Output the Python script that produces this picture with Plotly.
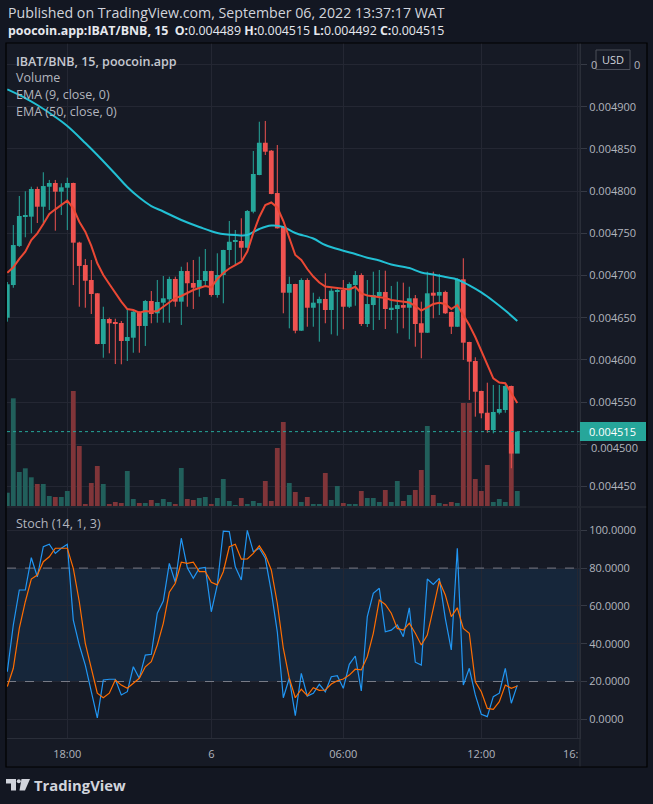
import plotly.graph_objects as go

W, H = 653, 804

# ---------------- data ----------------
bars = list(range(86))  # 15-minute bars, index 0 .. 85

open_ = [0.0046500, 0.0046887, 0.0047350, 0.0047701, 0.0047697, 0.0048025, 0.0047815, 0.0048052, 0.0048096, 0.0047993,
         0.0048040, 0.0048096, 0.0047390, 0.0047124, 0.0046947, 0.0046789, 0.0046188, 0.0046485, 0.0046449, 0.0046437,
         0.0046224, 0.0046263, 0.0046571, 0.0046402, 0.0046698, 0.0046552, 0.0046678, 0.0046718, 0.0046959, 0.0046690,
         0.0047053, 0.0046911, 0.0046855, 0.0046935, 0.0047053, 0.0046769, 0.0047006, 0.0047302, 0.0047405, 0.0047409,
         0.0047329, 0.0047756, 0.0048191, 0.0048573, 0.0048479, 0.0047977, 0.0047578, 0.0046796, 0.0046899, 0.0046346,
         0.0046947, 0.0046618, 0.0046671, 0.0046722, 0.0046591, 0.0046808, 0.0046828, 0.0046630, 0.0046887, 0.0047006,
         0.0046425, 0.0046650, 0.0046757, 0.0046805, 0.0046603, 0.0046603, 0.0046650, 0.0046618, 0.0046730, 0.0046434,
         0.0046322, 0.0046796, 0.0046761, 0.0046805, 0.0046568, 0.0046393, 0.0046955, 0.0046212, 0.0045987, 0.0045632,
         0.0045374, 0.0045169, 0.0045374, 0.0045406, 0.0045691, 0.0044890]
high = [0.0046923, 0.0047598, 0.0047942, 0.0047998, 0.0048052, 0.0048052, 0.0048223, 0.0048132, 0.0048132, 0.0048092,
        0.0048159, 0.0048100, 0.0047400, 0.0047196, 0.0047184, 0.0046792, 0.0046630, 0.0046500, 0.0046488, 0.0046461,
        0.0046611, 0.0046591, 0.0046575, 0.0046710, 0.0046816, 0.0046947, 0.0046994, 0.0046986, 0.0046986, 0.0047104,
        0.0047156, 0.0047184, 0.0047223, 0.0047314, 0.0047056, 0.0047263, 0.0047305, 0.0047646, 0.0047539, 0.0047678,
        0.0047776, 0.0048475, 0.0048822, 0.0048831, 0.0048487, 0.0048546, 0.0047580, 0.0046986, 0.0046902, 0.0046967,
        0.0046967, 0.0046796, 0.0046749, 0.0047026, 0.0046848, 0.0046840, 0.0046947, 0.0046919, 0.0047053, 0.0047026,
        0.0046947, 0.0047045, 0.0047065, 0.0047057, 0.0046876, 0.0046927, 0.0046915, 0.0046867, 0.0046769, 0.0046690,
        0.0047045, 0.0047045, 0.0047018, 0.0046820, 0.0046572, 0.0046967, 0.0047204, 0.0046215, 0.0046031, 0.0045635,
        0.0045730, 0.0045703, 0.0045703, 0.0045714, 0.0045695, 0.0045150]
low = [0.0046453, 0.0046855, 0.0047338, 0.0047453, 0.0047500, 0.0047622, 0.0047619, 0.0047776, 0.0047531, 0.0047717,
       0.0047539, 0.0046887, 0.0046630, 0.0046618, 0.0046544, 0.0046185, 0.0046026, 0.0046078, 0.0045951, 0.0045948,
       0.0045987, 0.0046085, 0.0046085, 0.0046165, 0.0046434, 0.0046441, 0.0046441, 0.0046441, 0.0046630, 0.0046414,
       0.0046630, 0.0046603, 0.0046749, 0.0046867, 0.0046749, 0.0046737, 0.0046671, 0.0047124, 0.0047124, 0.0047184,
       0.0047322, 0.0047737, 0.0048188, 0.0048428, 0.0047963, 0.0047556, 0.0046552, 0.0046374, 0.0046315, 0.0046343,
       0.0046393, 0.0046393, 0.0046216, 0.0046434, 0.0046303, 0.0046287, 0.0046363, 0.0046615, 0.0046642, 0.0046402,
       0.0046390, 0.0046354, 0.0046473, 0.0046366, 0.0046473, 0.0046315, 0.0046374, 0.0046244, 0.0046156, 0.0046019,
       0.0046319, 0.0046493, 0.0046532, 0.0046544, 0.0046307, 0.0046390, 0.0045999, 0.0045525, 0.0045327, 0.0045308,
       0.0045137, 0.0045130, 0.0045355, 0.0045374, 0.0044716, 0.0044920]
close = [0.0046896, 0.0047361, 0.0047705, 0.0047705, 0.0048025, 0.0047815, 0.0048060, 0.0048096, 0.0047993, 0.0048045,
         0.0048096, 0.0047389, 0.0047113, 0.0046938, 0.0046781, 0.0046188, 0.0046485, 0.0046434, 0.0046425, 0.0046224,
         0.0046271, 0.0046571, 0.0046402, 0.0046698, 0.0046544, 0.0046686, 0.0046730, 0.0046959, 0.0046690, 0.0047053,
         0.0046908, 0.0046855, 0.0046947, 0.0047053, 0.0046769, 0.0047006, 0.0047302, 0.0047400, 0.0047409, 0.0047329,
         0.0047764, 0.0048203, 0.0048573, 0.0048467, 0.0047966, 0.0047559, 0.0046796, 0.0046899, 0.0046346, 0.0046947,
         0.0046618, 0.0046678, 0.0046722, 0.0046591, 0.0046820, 0.0046828, 0.0046630, 0.0046899, 0.0047006, 0.0046425,
         0.0046662, 0.0046769, 0.0046805, 0.0046603, 0.0046618, 0.0046650, 0.0046618, 0.0046730, 0.0046425, 0.0046322,
         0.0046789, 0.0046761, 0.0046805, 0.0046552, 0.0046393, 0.0046955, 0.0046204, 0.0045979, 0.0045623, 0.0045367,
         0.0045169, 0.0045383, 0.0045418, 0.0045691, 0.0044890, 0.0045150]
volume = [13.3, 107.7, 34, 37.7, 28.7, 22, 22, 10, 9, 9,
          15, 115, 60, 2, 23, 40, 22, 2, 4, 3,
          35, 7, 3, 3, 6, 3, 7, 4, 2, 38,
          7, 6, 8, 9, 2, 8, 27, 5, 1, 8,
          2, 5, 3, 25, 5, 58, 84, 23, 14, 4,
          9, 2, 2, 33, 6, 20, 3, 2, 2, 15,
          8, 8, 4, 16, 4, 25, 5, 11, 16, 36,
          80, 11, 3, 2, 4, 3, 103, 103, 27, 15,
          41, 4, 7, 4, 61, 15]
ema9 = [0.0047033, 0.0047097, 0.0047196, 0.0047282, 0.0047421, 0.0047500, 0.0047610, 0.0047729, 0.0047784, 0.0047835,
        0.0047886, 0.0047796, 0.0047637, 0.0047519, 0.0047350, 0.0047145, 0.0047006, 0.0046899, 0.0046789, 0.0046690,
        0.0046603, 0.0046591, 0.0046559, 0.0046579, 0.0046571, 0.0046579, 0.0046630, 0.0046678, 0.0046733, 0.0046757,
        0.0046793, 0.0046828, 0.0046852, 0.0046876, 0.0046860, 0.0046959, 0.0047030, 0.0047083, 0.0047124, 0.0047164,
        0.0047284, 0.0047504, 0.0047693, 0.0047835, 0.0047865, 0.0047806, 0.0047646, 0.0047444, 0.0047243, 0.0047184,
        0.0047077, 0.0046988, 0.0046917, 0.0046870, 0.0046860, 0.0046855, 0.0046840, 0.0046834, 0.0046867, 0.0046787,
        0.0046763, 0.0046751, 0.0046745, 0.0046733, 0.0046710, 0.0046701, 0.0046690, 0.0046680, 0.0046639, 0.0046585,
        0.0046621, 0.0046662, 0.0046678, 0.0046662, 0.0046603, 0.0046650, 0.0046532, 0.0046414, 0.0046271, 0.0046105,
        0.0045928, 0.0045782, 0.0045732, 0.0045723, 0.0045608, 0.0045489]
ema50_idx = [0, 3, 5, 8, 10, 13, 15, 18, 20, 22, 24, 26, 29, 32, 35, 38, 40, 42, 44, 46,
             48, 51, 53, 56, 58, 60, 62, 64, 67, 69, 71, 73, 75, 77, 79, 81, 83, 85]
ema50 = [0.0049206, 0.0049103, 0.0049020, 0.0048878, 0.0048771, 0.0048570, 0.0048428, 0.0048203, 0.0048049, 0.0047924,
         0.0047823, 0.0047758, 0.0047658, 0.0047575, 0.0047504, 0.0047480, 0.0047480, 0.0047551, 0.0047592, 0.0047575,
         0.0047504, 0.0047438, 0.0047361, 0.0047294, 0.0047255, 0.0047211, 0.0047178, 0.0047130, 0.0047089, 0.0047036,
         0.0047012, 0.0046982, 0.0046953, 0.0046882, 0.0046799, 0.0046698, 0.0046585, 0.0046461]
stoch_k = [25.2, 49.9, 68.4, 68.4, 85.5, 75.4, 91.3, 92.6, 87.8, 90.5,
           92.6, 52.5, 39.3, 28.7, 14.6, 0.8, 20.8, 21.2, 21.2, 12.9,
           14.6, 27.8, 21.7, 34.0, 34.4, 56.1, 62.6, 82.5, 72.5, 95.8,
           80.2, 74.6, 79.9, 80.4, 56.9, 71.1, 99.6, 99.3, 80.7, 73.7,
           100.0, 88.7, 90.5, 85.2, 67.5, 46.3, 11.4, 21.7, 1.9, 24.3,
           12.3, 13.8, 18.5, 14.6, 22.5, 23.1, 16.4, 29.1, 33.5, 15.0,
           54.3, 66.7, 69.3, 46.3, 47.2, 49.9, 43.7, 59.0, 30.2, 28.7,
           74.2, 71.4, 74.6, 53.4, 36.7, 90.5, 18.1, 27.0, 12.9, 2.6,
           1.4, 12.0, 13.8, 27.0, 8.5, 18.1]
stoch_d = [17.3, 27.0, 48.1, 62.2, 74.2, 76.3, 83.4, 86.0, 90.5, 90.5,
           90.5, 79.9, 62.2, 40.2, 27.0, 13.8, 11.4, 13.8, 20.8, 18.1,
           16.4, 19.0, 21.7, 27.8, 30.5, 39.3, 50.8, 67.2, 72.0, 83.1,
           82.5, 83.1, 78.1, 78.1, 72.5, 71.1, 78.1, 91.3, 92.6, 84.7,
           84.8, 87.8, 91.8, 86.9, 79.0, 61.4, 37.6, 21.7, 11.4, 15.9,
           12.5, 16.7, 15.3, 15.5, 18.7, 20.4, 21.3, 23.4, 26.5, 26.1,
           33.1, 45.5, 63.1, 60.8, 56.1, 48.1, 47.2, 50.8, 45.5, 39.3,
           44.6, 58.7, 73.2, 65.8, 54.3, 59.0, 48.1, 45.5, 19.9, 14.6,
           5.8, 5.3, 9.3, 18.1, 16.4, 17.6]
stoch_bands = [20, 80]

price_ticks = [0.00445, 0.00450, 0.00455, 0.00460, 0.00465, 0.00470, 0.00475, 0.00480, 0.00485, 0.00490, 0.00495]
# 0.004500 sits under the last-price label and 0.004950 under the USD box: drawn separately below
price_tick_text = ["0.004450", "", "0.004550", "0.004600", "0.004650", "0.004700",
                   "0.004750", "0.004800", "0.004850", "0.004900", ""]
stoch_ticks = [0, 20, 40, 60, 80, 100]
stoch_tick_text = ["0.0000", "20.0000", "40.0000", "60.0000", "80.0000", "100.0000"]
time_tick_idx = [10, 34, 56, 79, 95]
time_tick_text = ["18:00", "6", "06:00", "12:00", ""]
last_price = 0.004515

header1 = "Published on TradingView.com, September 06, 2022 13:37:17 WAT"
header2 = ("<b>poocoin.app:IBAT/BNB, 15</b>  <b>O:</b>0.004489 <b>H:</b>0.004515 "
           "<b>L:</b>0.004492 <b>C:</b>0.004515")
legend_title = "IBAT/BNB, 15, poocoin.app"
legend_lines = ["Volume", "EMA (9, close, 0)", "EMA (50, close, 0)"]
stoch_title = "Stoch (14, 1, 3)"

# ---------------- style ----------------
UP, DN = "#26a69a", "#ef5350"
UPV, DNV = "#215f5b", "#803539"
GRID = "#242733"
AXL = "#2a2e39"
TXT = "#b2b5be"
FONT = "Open Sans"


def px(x):
    return x / W


def py(y):
    return 1 - y / H


# plot geometry (pixels)
PL, PR = 7, 580
MAIN_T, MAIN_B = 43, 506
ST_T, ST_B = 508, 738

is_up = [c >= o for o, c in zip(open_, close)]
body_base = [min(o, c) for o, c in zip(open_, close)]
body_h = [max(abs(c - o), 1.2e-6) for o, c in zip(open_, close)]
body_col = [UP if u else DN for u in is_up]
vol_col = [UPV if u else DNV for u in is_up]


def wicks(up_flag):
    xs, ys = [], []
    for i, u in enumerate(is_up):
        if u == up_flag:
            xs += [bars[i], bars[i], None]
            ys += [low[i], high[i], None]
    return xs, ys


xr = [(PL - 7.3) / 6, (PR - 7.3) / 6]

fig = go.Figure()

# volume (base axis y, drawn beneath price)
fig.add_trace(go.Bar(x=bars, y=volume, marker_color=vol_col, marker_line_width=0,
                     width=0.8, xaxis="x", yaxis="y"))

# candle wicks
for flag, col in [(True, UP), (False, DN)]:
    wx, wy = wicks(flag)
    fig.add_trace(go.Scatter(x=wx, y=wy, mode="lines", line=dict(color=col, width=1),
                             xaxis="x", yaxis="y2"))
# candle bodies
fig.add_trace(go.Bar(x=bars, y=body_h, base=body_base, marker_color=body_col,
                     marker_line_width=0, width=0.8, xaxis="x", yaxis="y2"))

# EMAs
fig.add_trace(go.Scatter(x=ema50_idx, y=ema50, mode="lines", line=dict(color="#22c0d4", width=2),
                         line_shape="spline", xaxis="x", yaxis="y2"))
fig.add_trace(go.Scatter(x=bars, y=ema9, mode="lines", line=dict(color="#eb4834", width=2),
                         xaxis="x", yaxis="y2"))

# Stochastic band levels and lines
for lv in stoch_bands:
    fig.add_trace(go.Scatter(x=xr, y=[lv, lv], mode="lines",
                             line=dict(color="#787b86", width=1, dash="dash"),
                             xaxis="x2", yaxis="y3"))
fig.add_trace(go.Scatter(x=bars, y=stoch_k, mode="lines", line=dict(color="#2196f3", width=1.2),
                         xaxis="x2", yaxis="y3"))
fig.add_trace(go.Scatter(x=bars, y=stoch_d, mode="lines", line=dict(color="#ff6d00", width=1.2),
                         xaxis="x2", yaxis="y3"))

fig.update_layout(
    width=W, height=H, autosize=False,
    margin=dict(l=0, r=0, t=0, b=0),
    paper_bgcolor="#131722", plot_bgcolor="rgba(0,0,0,0)",
    showlegend=False, hovermode=False, barmode="overlay",
    font=dict(family=FONT, color=TXT, size=11),
    xaxis=dict(domain=[px(PL), px(PR)], range=xr, anchor="y", tickvals=time_tick_idx,
               showticklabels=False, showgrid=True, gridcolor=GRID, zeroline=False,
               showline=False, ticks=""),
    yaxis=dict(domain=[py(MAIN_B), py(MAIN_T)], range=[0, MAIN_B - MAIN_T], visible=False,
               showgrid=False, zeroline=False),
    yaxis2=dict(overlaying="y", side="right", anchor="x",
                range=[0.0049 - (MAIN_B - 106.7) * 0.00005 / 42.2,
                       0.0049 + (106.7 - MAIN_T) * 0.00005 / 42.2],
                tickvals=price_ticks, ticktext=price_tick_text, showgrid=True, gridcolor=GRID,
                zeroline=False, ticks="outside", ticklen=6, tickcolor="#363a45",
                tickfont=dict(size=11, color=TXT), showline=True, linecolor=AXL),
    xaxis2=dict(domain=[px(PL), px(PR)], range=xr, anchor="y3", tickvals=time_tick_idx,
                ticktext=time_tick_text, showgrid=True, gridcolor=GRID, zeroline=False,
                showline=True, linecolor=AXL, ticks="", ticklabelstandoff=6,
                tickfont=dict(size=11, color=TXT)),
    yaxis3=dict(domain=[py(ST_B), py(ST_T)], anchor="x2", side="right",
                range=[-(ST_B - 719.3) / 1.89, 100 + (530.3 - ST_T) / 1.89],
                tickvals=stoch_ticks, ticktext=stoch_tick_text,
                showgrid=True, gridcolor=GRID, zeroline=False, ticks="outside", ticklen=6,
                tickcolor="#363a45", tickfont=dict(size=11, color=TXT),
                showline=True, linecolor=AXL),
)

shapes = []
# chart background
shapes.append(dict(type="rect", xref="paper", yref="paper", x0=px(6), x1=px(647), y0=py(767), y1=py(43),
                   fillcolor="#161a25", line=dict(width=0), layer="below"))
# stoch band
shapes.append(dict(type="rect", xref="paper", yref="y3", x0=px(PL), x1=px(PR), y0=20, y1=80,
                   fillcolor="rgba(33,150,243,0.10)", line=dict(width=0), layer="below"))
# current price dotted line
shapes.append(dict(type="line", xref="paper", yref="y2", x0=px(PL), x1=px(PR), y0=last_price, y1=last_price,
                   line=dict(color=UP, width=1, dash="dot"), layer="above"))
# pane separator
shapes.append(dict(type="line", xref="paper", yref="paper", x0=px(6), x1=px(647), y0=py(507), y1=py(507),
                   line=dict(color=AXL, width=1), layer="above"))
# right axis vertical line through time axis area
shapes.append(dict(type="line", xref="paper", yref="paper", x0=px(PR), x1=px(PR), y0=py(767), y1=py(43),
                   line=dict(color=AXL, width=1), layer="above"))
# price label box
PLY = 431.6
shapes.append(dict(type="rect", xref="paper", yref="paper", x0=px(580), x1=px(646),
                   y0=py(PLY + 9.5), y1=py(PLY - 9.5),
                   fillcolor=UP, line=dict(width=0), layer="above"))
# USD box
shapes.append(dict(type="rect", xref="paper", yref="paper", x0=px(596), x1=px(630), y0=py(69.5), y1=py(50),
                   fillcolor="#161a25", line=dict(color="#4a4e59", width=1), layer="above"))
# chart border
shapes.append(dict(type="rect", xref="paper", yref="paper", x0=px(6), x1=px(647), y0=py(767), y1=py(43),
                   fillcolor="rgba(0,0,0,0)", line=dict(color="#000000", width=1.2), layer="above"))
# TradingView logo
LOGO = "#d1d4dc"
shapes.append(dict(type="path", xref="paper", yref="paper",
                   path="M %f,%f L %f,%f L %f,%f L %f,%f L %f,%f L %f,%f Z" % (
                       px(6), py(779), px(16), py(779), px(16), py(790.5), px(11), py(790.5),
                       px(11), py(783.5), px(6), py(783.5)),
                   fillcolor=LOGO, line=dict(width=0), layer="above"))
shapes.append(dict(type="circle", xref="paper", yref="paper", x0=px(16.8), x1=px(20.8), y0=py(783.2),
                   y1=py(779.2), fillcolor=LOGO, line=dict(width=0), layer="above"))
shapes.append(dict(type="path", xref="paper", yref="paper",
                   path="M %f,%f L %f,%f L %f,%f L %f,%f Z" % (
                       px(21.5), py(779), px(30), py(779), px(25), py(790.5), px(19.5), py(790.5)),
                   fillcolor=LOGO, line=dict(width=0), layer="above"))
fig.update_layout(shapes=shapes)


def note(x, y, s, size=12, color=TXT, xanchor="left", weight=None):
    f = dict(family=FONT, size=size, color=color)
    if weight:
        f["weight"] = weight
    return dict(x=px(x), y=py(y), xref="paper", yref="paper", text=s, showarrow=False,
                xanchor=xanchor, yanchor="middle", font=f)


ann = [
    note(6, 12.5, header1, 14.2, "#d1d4dc"),
    note(6, 30.5, header2, 12.4, "#e6e8ee"),
    note(14, 61, legend_title, 12.5, "#c5c8d0", weight=600),
    note(14, 77.7, legend_lines[0], 12.5, TXT),
    note(14, 95, legend_lines[1], 12.5, TXT),
    note(14, 111.7, legend_lines[2], 12.5, TXT),
    note(14, 523.3, stoch_title, 12.5, TXT),
    note(613, 59.5, "USD", 11, "#d1d4dc", xanchor="center"),
    # visible fragments of the 0.004950 tick label on either side of the USD box
    note(588.5, 64.5, "0", 11, TXT),
    note(631.5, 64.5, "0", 11, TXT),
    # 0.004500 tick label, just below the last-price label
    note(588.5, 447.5, "0.004500", 11, TXT),
    note(587, PLY, "%.6f" % last_price, 11, "#ffffff"),
    note(581, 753, "16:", 11, TXT, xanchor="right"),
    note(32, 785, "<b>TradingView</b>", 14.8, LOGO),
]
fig.update_layout(annotations=ann)

fig.write_html("out.html", config={"displayModeBar": False},
               post_script="document.body.style.margin='0';document.body.style.overflow='hidden';")
